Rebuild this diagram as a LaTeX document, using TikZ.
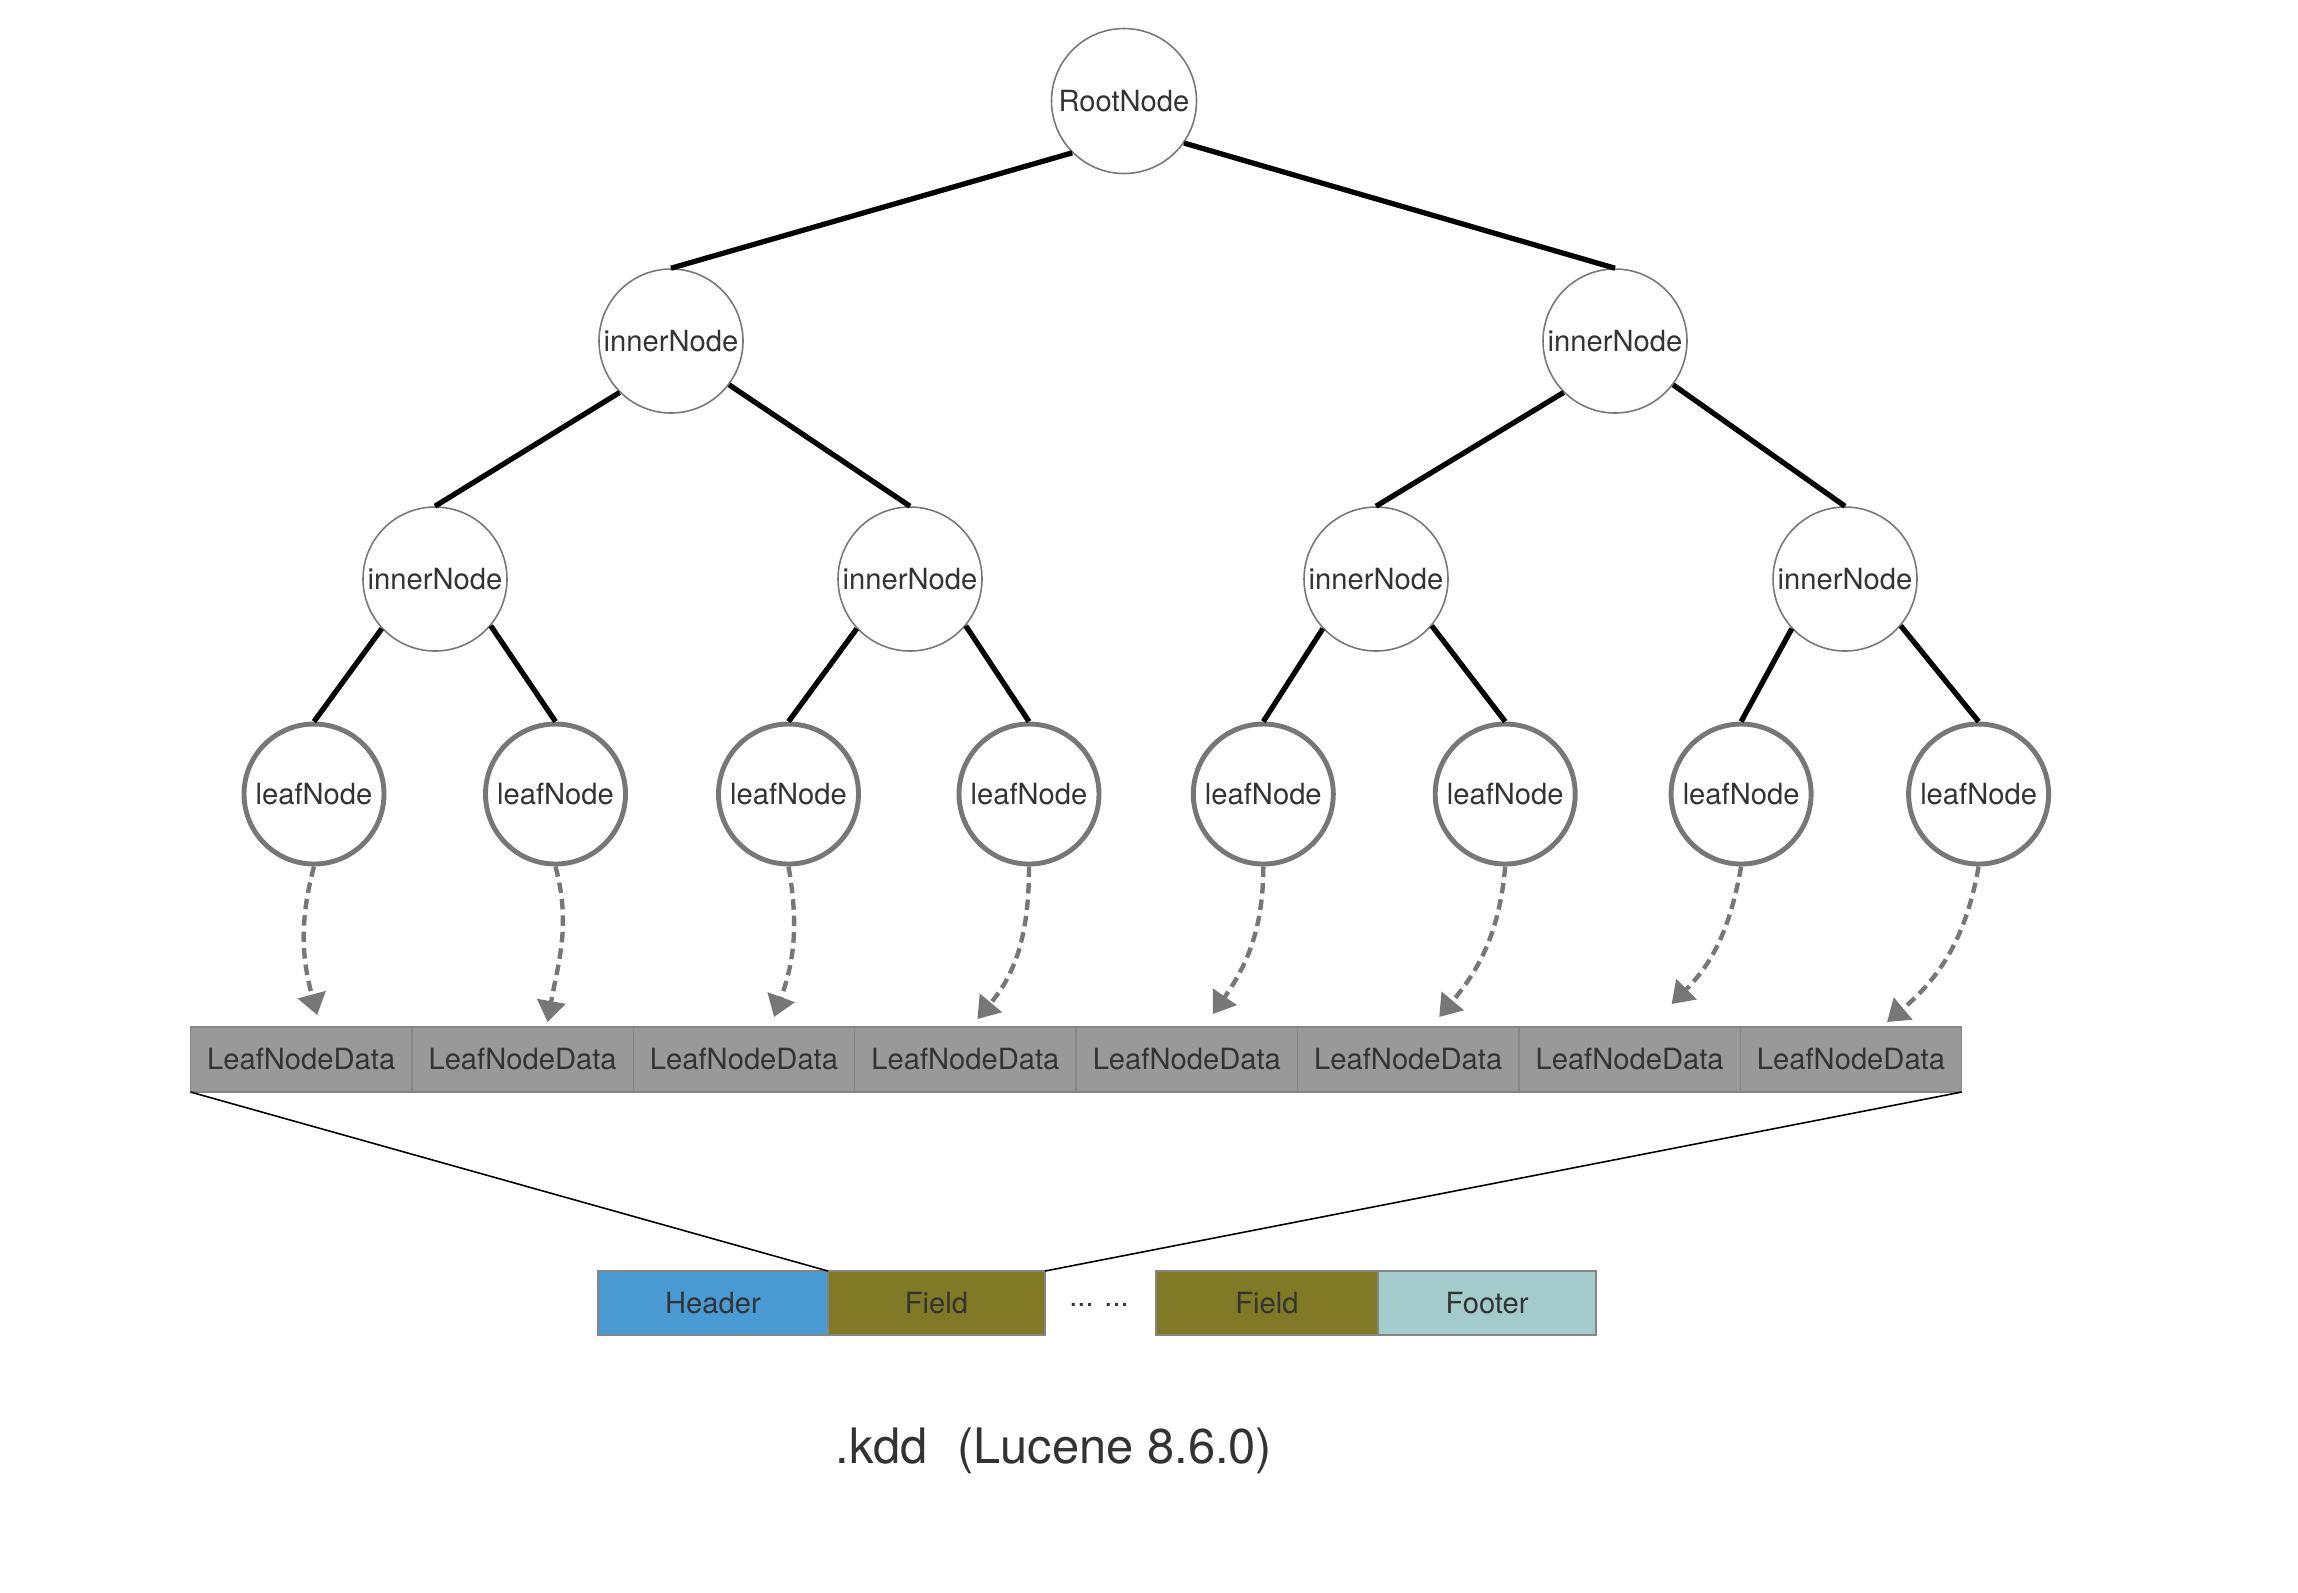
\documentclass[tikz,border=0pt]{standalone}
\usepackage{fontspec}
\setmainfont{TeX Gyre Heros}
\usetikzlibrary{shapes.geometric, arrows.meta}
\usetikzlibrary{positioning}
\definecolor{circgray}{HTML}{777777}
\definecolor{txtgray}{HTML}{333333}
\definecolor{cellgray}{HTML}{999999}
\definecolor{bordergray}{HTML}{858585}
\definecolor{headerblue}{HTML}{4A9BD4}
\definecolor{fieldolive}{HTML}{807A26}
\definecolor{footercyan}{HTML}{A3CBCB}
\tikzstyle{rootnode} = [circle, minimum size=1.45cm, inner sep=0pt, draw=circgray, line width=0.45pt, text=txtgray, font=\fontsize{8.3}{10}\selectfont]
\tikzstyle{innernode} = [circle, minimum size=1.44cm, inner sep=0pt, draw=circgray, line width=0.45pt, text=txtgray, font=\fontsize{8.3}{10}\selectfont]
\tikzstyle{leafnode} = [circle, minimum size=1.40cm, inner sep=0pt, draw=circgray, line width=1.4pt, text=txtgray, font=\fontsize{8.3}{10}\selectfont]
\tikzstyle{datacell} = [rectangle, minimum width=2.214cm, minimum height=0.65cm, inner sep=0pt, outer sep=0pt, draw=bordergray, line width=0.4pt, fill=cellgray, text=txtgray, font=\fontsize{8.3}{10}\selectfont]
\tikzstyle{filecell} = [rectangle, minimum height=0.64cm, inner sep=0pt, outer sep=0pt, draw=bordergray, line width=0.4pt, text=txtgray, font=\fontsize{8.3}{10}\selectfont]
\tikzstyle{treeline} = [line width=1.5pt, black]
\tikzstyle{dataarrow} = [line width=1.25pt, circgray, dash pattern=on 3pt off 1.7pt, -{Triangle[length=6pt,width=8pt]}]
\tikzstyle{zoomline} = [line width=0.45pt, black]

\begin{document}
\begin{tikzpicture}
	\useasboundingbox (0,0) rectangle (22.98,-15.92);

	% tree
	\node (root) [rootnode] at (11.24,-1.01) {RootNode};
	\node (in1) [innernode] at (6.71,-3.41) {innerNode};
	\node (in2) [innernode] at (16.15,-3.41) {innerNode};
	\node (in11) [innernode] at (4.35,-5.79) {innerNode};
	\node (in12) [innernode] at (9.10,-5.79) {innerNode};
	\node (in21) [innernode] at (13.76,-5.79) {innerNode};
	\node (in22) [innernode] at (18.45,-5.79) {innerNode};
	\foreach \i/\x in {1/3.14, 2/5.555, 3/7.885, 4/10.29, 5/12.633, 6/15.052, 7/17.411, 8/19.786}
		\node (l\i) [leafnode] at (\x,-7.94) {leafNode};

	\draw [treeline] (root.225) -- (in1.north);
	\draw [treeline] (root.-35) -- (in2.north);
	\draw [treeline] (in1.225) -- (in11.north);
	\draw [treeline] (in1.-37) -- (in12.north);
	\draw [treeline] (in2.225) -- (in21.north);
	\draw [treeline] (in2.-37) -- (in22.north);
	\draw [treeline] (in11.223) -- (l1.north);
	\draw [treeline] (in11.-40) -- (l2.north);
	\draw [treeline] (in12.223) -- (l3.north);
	\draw [treeline] (in12.-40) -- (l4.north);
	\draw [treeline] (in21.223) -- (l5.north);
	\draw [treeline] (in21.-40) -- (l6.north);
	\draw [treeline] (in22.223) -- (l7.north);
	\draw [treeline] (in22.-40) -- (l8.north);

	% leaf data
	\node (d1) [datacell] at (3.012,-10.595) {LeafNodeData};
	\foreach \i [count=\p] in {2,...,8}
		\node (d\i) [datacell, right=0cm of d\p] {LeafNodeData};

	\foreach \i/\o/\n/\dx/\dy in {1/-105/105/0.16/0.12, 2/-75/80/0.25/0.05, 3/-80/70/0.30/0.10, 4/-90/50/0.12/0.08,
		5/-90/55/0.26/0.13, 6/-95/50/0.31/0.10, 7/-100/45/0.42/0.23, 8/-100/40/0.36/0.05}
		\draw [dataarrow] (l\i.south) to[out=\o, in=\n] ([shift={(\dx,\dy)}]d\i.north);

	% file layout
	\node (header) [filecell, minimum width=2.30cm, fill=headerblue] at (7.13,-13.03) {Header};
	\node (field1) [filecell, minimum width=2.17cm, fill=fieldolive, right=0cm of header] {Field};
	\node (dots) [text=txtgray, font=\fontsize{8.3}{10}\selectfont] at (10.99,-13.05) {... ...};
	\node (field2) [filecell, minimum width=2.22cm, fill=fieldolive] at (12.67,-13.03) {Field};
	\node (footer) [filecell, minimum width=2.18cm, fill=footercyan, right=0cm of field2] {Footer};

	\draw [zoomline] (d1.south west) -- (field1.north west);
	\draw [zoomline] (d8.south east) -- (field1.north east);

	\node (title) [text=txtgray, font=\fontsize{13.9}{16}\selectfont] at (10.54,-14.51) {.kdd\hspace{0.6em}(Lucene 8.6.0)};

\end{tikzpicture}
\end{document}
